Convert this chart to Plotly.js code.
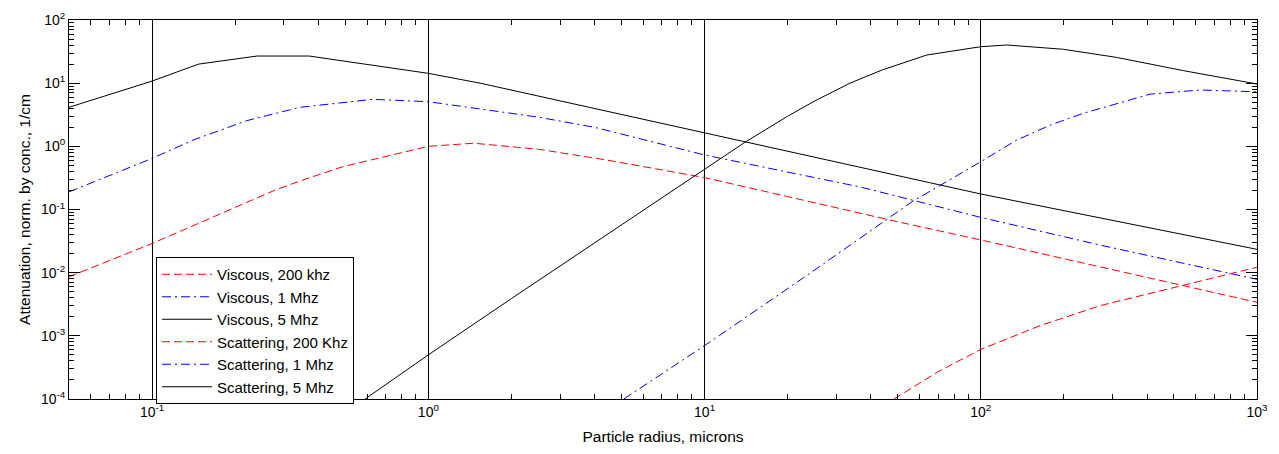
<!DOCTYPE html>
<html>
<head>
<meta charset="utf-8">
<script src="https://cdn.plot.ly/plotly-3.0.1.min.js"></script>
<style>
html, body { margin: 0; padding: 0; background: #fff; }
#chart { width: 1279px; height: 454px; }
</style>
</head>
<body>
<div id="chart"></div>
<script>
// ---- data (radius in microns, attenuation in 1/cm) ----
const viscous200kX = [0.05, 0.1, 0.283, 0.343, 0.49, 0.75, 1, 1.46, 2.5, 4.4, 10, 20, 50, 100, 270, 500, 1000];
const viscous200kY = [0.0086, 0.029, 0.209, 0.283, 0.476, 0.73, 1.0, 1.12, 0.90, 0.61, 0.32, 0.16, 0.064, 0.033, 0.0124, 0.0066, 0.0034];

const viscous1MX = [0.05, 0.1, 0.141, 0.22, 0.343, 0.63, 1, 1.54, 2.5, 4, 10, 36.5, 100, 270, 1000];
const viscous1MY = [0.19, 0.645, 1.26, 2.55, 4.15, 5.55, 5.09, 3.86, 2.9, 2.0, 0.73, 0.228, 0.075, 0.0274, 0.00785];

const viscous5MX = [0.05, 0.1, 0.147, 0.24, 0.37, 0.57, 1, 1.54, 10, 100, 1000];
const viscous5MY = [4.15, 10.8, 20, 26.9, 26.9, 20.6, 14.3, 10.0, 1.64, 0.176, 0.0234];

const scatter200kX = [48.5, 70, 100, 164, 270, 471, 715, 1000];
const scatter200kY = [1e-4, 2.7e-4, 6.1e-4, 1.45e-3, 3.0e-3, 5.4e-3, 8.5e-3, 0.0122];

const scatter1MX = [5.1, 10, 24.1, 56.4, 100, 135, 180, 235, 410, 622, 1000];
const scatter1MY = [1e-4, 7e-4, 0.0098, 0.133, 0.57, 1.26, 2.2, 3.33, 6.7, 7.8, 7.3];

const scatter5MX = [0.59, 1, 2, 10, 14, 20, 25, 33.6, 44, 63.7, 100, 124, 199, 310, 541, 1000];
const scatter5MY = [1e-4, 5e-4, 0.0039, 0.44, 1.16, 3.0, 5.2, 10.0, 16.2, 27.9, 37.8, 40.2, 34.4, 25.6, 15.8, 9.7];

const seriesNames = ['Viscous, 200 khz', 'Viscous, 1 Mhz', 'Viscous, 5 Mhz',
                     'Scattering, 200 Khz', 'Scattering, 1 Mhz', 'Scattering, 5 Mhz'];

const xTickVals = [0.1, 1, 10, 100, 1000];
const xTickText = ['10<sup>-1</sup>', '10<sup>0</sup>', '10<sup>1</sup>', '10<sup>2</sup>', '10<sup>3</sup>'];
const yTickVals = [1e-4, 1e-3, 1e-2, 1e-1, 1, 10, 100];
const yTickText = ['10<sup>-4</sup>', '10<sup>-3</sup>', '10<sup>-2</sup>', '10<sup>-1</sup>', '10<sup>0</sup>', '10<sup>1</sup>', '10<sup>2</sup>'];

// ---- styling ----
const RED = '#ff0000', BLUE = '#0000ff', BLACK = '#000000';
const DASH = '8px,4px';
const DASHDOT = '9px,4px,2px,4px';
const FONT = '"Liberation Sans", Arial, Helvetica, sans-serif';

function minorTicks(lo, hi) {
  const out = [];
  for (let e = lo; e <= hi; e++) {
    for (let m = 2; m <= 9; m++) out.push(m * Math.pow(10, e));
  }
  return out;
}

const traces = [
  {x: viscous200kX, y: viscous200kY, name: seriesNames[0], line: {color: RED, dash: DASH, width: 1}},
  {x: viscous1MX, y: viscous1MY, name: seriesNames[1], line: {color: BLUE, dash: DASHDOT, width: 1}},
  {x: viscous5MX, y: viscous5MY, name: seriesNames[2], line: {color: BLACK, width: 1}},
  {x: scatter200kX, y: scatter200kY, name: seriesNames[3], line: {color: RED, dash: DASH, width: 1}},
  {x: scatter1MX, y: scatter1MY, name: seriesNames[4], line: {color: BLUE, dash: DASHDOT, width: 1}},
  {x: scatter5MX, y: scatter5MY, name: seriesNames[5], line: {color: BLACK, width: 1}}
].map(t => Object.assign({type: 'scatter', mode: 'lines', hoverinfo: 'skip'}, t));

const axisCommon = {
  type: 'log',
  tickmode: 'array',
  ticks: 'inside',
  ticklen: 11,
  tickwidth: 1,
  tickcolor: BLACK,
  showline: true,
  linecolor: BLACK,
  linewidth: 1,
  mirror: 'ticks',
  zeroline: false,
  tickfont: {family: FONT, size: 14, color: BLACK},
};

const layout = {
  width: 1279,
  height: 454,
  margin: {l: 69, r: 22, t: 20, b: 55},
  paper_bgcolor: '#ffffff',
  plot_bgcolor: '#ffffff',
  font: {family: FONT, size: 14, color: BLACK},
  showlegend: true,
  legend: {
    x: (156 - 69) / 1188, y: (399 - 257) / 379,
    xanchor: 'left', yanchor: 'top',
    bgcolor: '#ffffff', bordercolor: BLACK, borderwidth: 1,
    font: {family: FONT, size: 15, color: BLACK},
    itemwidth: 50,
    entrywidth: 150,
    tracegroupgap: 0
  },
  xaxis: Object.assign({}, axisCommon, {
    range: [Math.log10(0.05), 3],
    tickvals: xTickVals,
    ticktext: xTickText,
    showgrid: true,
    gridcolor: BLACK,
    gridwidth: 1,
    minor: {tickmode: 'array', tickvals: minorTicks(-2, 2), ticks: 'inside', ticklen: 5, tickcolor: BLACK, showgrid: false},
    title: {text: 'Particle radius, microns', font: {family: FONT, size: 15.5, color: BLACK}, standoff: 12}
  }),
  yaxis: Object.assign({}, axisCommon, {
    range: [-4, 2],
    tickvals: yTickVals,
    ticktext: yTickText,
    showgrid: false,
    minor: {tickmode: 'array', tickvals: minorTicks(-4, 1), ticks: 'inside', ticklen: 5, tickcolor: BLACK, showgrid: false},
    title: {text: 'Attenuation, norm. by conc., 1/cm', font: {family: FONT, size: 15.5, color: BLACK}, standoff: 6}
  })
};

Plotly.newPlot('chart', traces, layout, {staticPlot: true, displayModeBar: false});
</script>
</body>
</html>
